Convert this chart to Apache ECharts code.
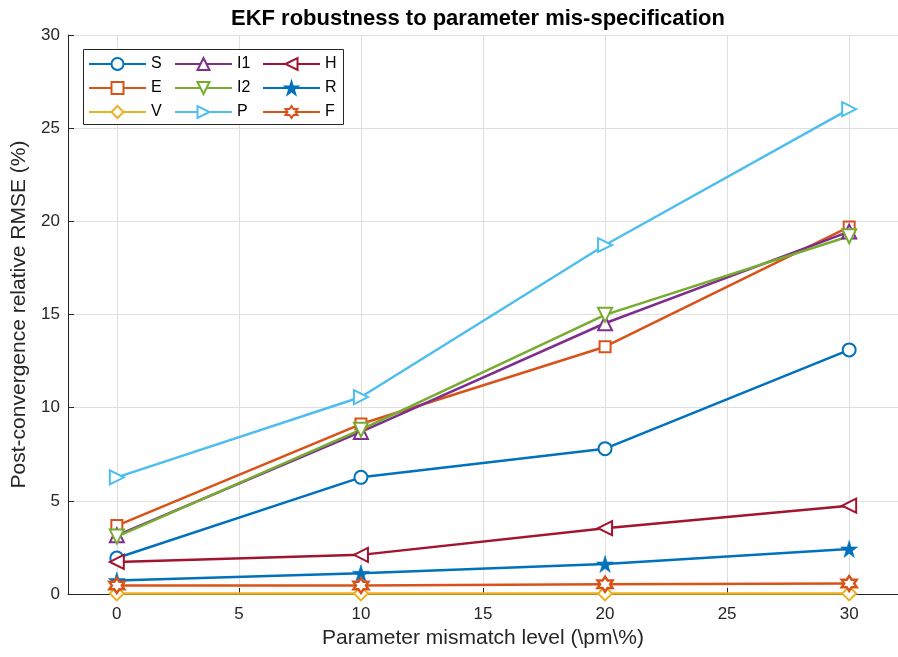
<!DOCTYPE html>
<html>
<head>
<meta charset="utf-8">
<script src="https://cdn.jsdelivr.net/npm/echarts@6/dist/echarts.min.js"></script>
<style>
html,body{margin:0;padding:0;background:#fff;}
#chart{width:898px;height:657px;}
</style>
</head>
<body>
<div id="chart"></div>
<script>
const mismatch = [0, 10, 20, 30];
const seriesNames = ['S', 'E', 'V', 'I1', 'I2', 'P', 'H', 'R', 'F'];
const S  = [1.93, 6.26, 7.80, 13.10];
const E  = [3.67, 9.12, 13.27, 19.70];
const V  = [0.03, 0.03, 0.03, 0.03];
const I1 = [3.15, 8.70, 14.53, 19.45];
const I2 = [3.08, 8.82, 14.98, 19.20];
const P  = [6.26, 10.57, 18.73, 26.02];
const H  = [1.72, 2.10, 3.53, 4.74];
const R  = [0.72, 1.11, 1.61, 2.42];
const F  = [0.45, 0.45, 0.52, 0.57];
const yTicks = [0, 5, 10, 15, 20, 25, 30];

const valuesByName = {S, E, V, I1, I2, P, H, R, F};
const colors = {S:'#0072BD', E:'#D95319', V:'#EDB120', I1:'#7E2F8E', I2:'#77AC30', P:'#4DBEEE', H:'#A2142F', R:'#0072BD', F:'#D95319'};
const starPath = 'path://M50 0 L61.23 34.55 L97.55 34.55 L68.16 55.9 L79.39 90.45 L50 69.1 L20.61 90.45 L31.84 55.9 L2.45 34.55 L38.77 34.55 Z';
const hexPath = 'path://M50 0 L64.43 25 L93.3 25 L78.87 50 L93.3 75 L64.43 75 L50 100 L35.57 75 L6.7 75 L21.13 50 L6.7 25 L35.57 25 Z';
const markers = {
  S:{symbol:'emptyCircle', size:13, rot:0},
  E:{symbol:'emptyRect', size:11, rot:0},
  V:{symbol:'emptyDiamond', size:14, rot:0},
  I1:{symbol:'emptyTriangle', size:14, rot:0},
  I2:{symbol:'emptyTriangle', size:14, rot:180},
  P:{symbol:'emptyTriangle', size:14, rot:-90},
  H:{symbol:'emptyTriangle', size:14, rot:90},
  R:{symbol:starPath, size:17, rot:0, filled:true},
  F:{symbol:hexPath, size:15, rot:0, filled:false}
};

const txt = '#262626';
const fam = 'Liberation Sans, Arial, Helvetica, sans-serif';
const series = seriesNames.map(function(n){
  const m = markers[n];
  const isPath = m.symbol.indexOf('path://') === 0;
  return {
    name: n,
    type: 'line',
    data: mismatch.map(function(x, i){ return [x, valuesByName[n][i]]; }),
    symbol: m.symbol,
    symbolSize: m.size,
    symbolRotate: m.rot,
    showAllSymbol: true,
    lineStyle: {color: colors[n], width: 2.5},
    itemStyle: isPath ? {color: m.filled ? colors[n] : '#fff', borderColor: colors[n], borderWidth: m.filled ? 0.5 : 2.5} : {color: colors[n], borderWidth: 2.2},
    emphasis: {disabled: true},
    animation: false
  };
});

function legendCol(names, left){
  return {
    data: names,
    orient: 'vertical',
    left: left,
    top: 56,
    padding: 0,
    itemWidth: 57,
    itemHeight: 15,
    itemGap: 8,
    textStyle: {fontFamily: fam, fontSize: 16, color: '#000', lineHeight: 15},
    selectedMode: false
  };
}

const chart = echarts.init(document.getElementById('chart'), null, {renderer: 'canvas'});
chart.setOption({
  animation: false,
  backgroundColor: '#fff',
  title: {
    text: 'EKF robustness to parameter mis-specification',
    left: 231, top: 8, padding: 0,
    textStyle: {fontFamily: fam, fontSize: 22, fontWeight: 'bold', color: '#000'}
  },
  grid: {left: 68, right: -14, top: 35, bottom: 63, containLabel: false},
  legend: [
    legendCol(['S','E','V'], 88),
    legendCol(['I1','I2','P'], 174),
    legendCol(['H','R','F'], 262)
  ],
  graphic: [{
    type: 'rect', left: 83, top: 49, z: 4,
    shape: {width: 260, height: 75},
    style: {fill: '#fff', stroke: '#262626', lineWidth: 1}
  }],
  xAxis: {
    type: 'value', min: -2, max: 32, splitNumber: 7,
    name: 'Parameter mismatch level (\\pm\\%)',
    nameLocation: 'middle', nameGap: 32,
    nameTextStyle: {fontFamily: fam, fontSize: 21, color: txt},
    axisLine: {show: true, onZero: false, lineStyle: {color: txt, width: 1}},
    axisTick: {show: true, inside: true, length: 6, lineStyle: {color: txt}},
    axisLabel: {showMinLabel: false, showMaxLabel: false, fontFamily: fam, fontSize: 17, color: txt, margin: 12},
    splitLine: {show: true, lineStyle: {color: '#dfdfdf', width: 1}}
  },
  yAxis: {
    type: 'value', min: yTicks[0], max: yTicks[yTicks.length-1], interval: 5,
    name: 'Post-convergence relative RMSE (%)',
    nameLocation: 'middle', nameGap: 29,
    nameTextStyle: {fontFamily: fam, fontSize: 21, color: txt},
    axisLine: {show: true, onZero: false, lineStyle: {color: txt, width: 1}},
    axisTick: {show: true, inside: true, length: 6, lineStyle: {color: txt}},
    axisLabel: {fontFamily: fam, fontSize: 17, color: txt, margin: 8},
    splitLine: {show: true, lineStyle: {color: '#dfdfdf', width: 1}}
  },
  series: series
});
</script>
</body>
</html>
